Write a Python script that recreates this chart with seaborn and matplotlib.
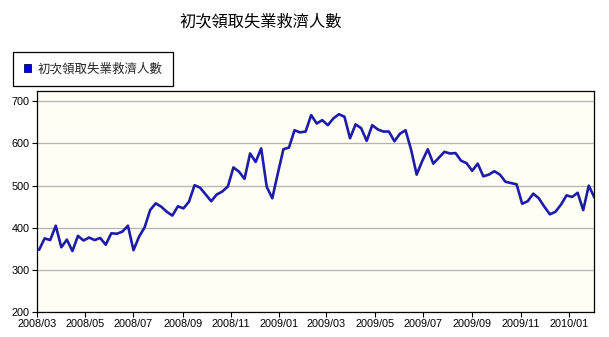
import matplotlib
matplotlib.use("Agg")
import matplotlib.pyplot as plt
import matplotlib.dates as mdates
from matplotlib.patches import Patch
import pandas as pd
import seaborn as sns

# Weekly initial jobless claims (thousands)
title = "初次領取失業救濟人數"
series_name = "初次領取失業救濟人數"
start_week = "2008-03-04"
claims = [
    348, 375, 371, 405, 354, 372, 345, 381, 370, 377,
    371, 376, 360, 387, 386, 391, 405, 347, 379, 401,
    442, 458, 450, 438, 429, 451, 446, 462, 501, 495,
    479, 463, 479, 486, 498, 543, 533, 516, 576, 556,
    588, 497, 470, 529, 586, 590, 631, 626, 628, 667,
    647, 655, 643, 659, 669, 663, 612, 645, 636, 606,
    643, 633, 628, 628, 605, 623, 631, 585, 526, 558,
    586, 552, 566, 580, 576, 577, 559, 553, 535, 552,
    522, 526, 534, 526, 509, 506, 503, 457, 463, 481,
    470, 450, 432, 438, 455, 477, 473, 483, 442, 500,
    472,
]
y_ticks = [200, 300, 400, 500, 600, 700]

weeks = pd.date_range(start_week, periods=len(claims), freq="7D")
df = pd.DataFrame({"week": weeks, "claims": claims})

sns.set_style("white")
plt.rcParams["font.family"] = ["Liberation Sans", "Noto Sans CJK TC", "DejaVu Sans"]

fig = plt.figure(figsize=(6.09, 3.37), dpi=100)
fig.patch.set_facecolor("white")
ax = fig.add_axes([0.0603, 0.0733, 0.9156, 0.6567])
ax.set_facecolor("#fffef4")

sns.lineplot(data=df, x="week", y="claims", ax=ax, color="#1c1ca8",
             linewidth=1.9, legend=False)
for line in ax.lines:
    line.set_solid_joinstyle("round")
    line.set_solid_capstyle("round")

ax.set_ylim(200, 724)
ax.set_yticks(y_ticks)
ax.set_xlim(pd.Timestamp("2008-03-01"), weeks[-1])
ax.xaxis.set_major_locator(mdates.MonthLocator(bymonth=[1, 3, 5, 7, 9, 11]))
ax.xaxis.set_major_formatter(mdates.DateFormatter("%Y/%m"))

ax.grid(axis="y", color="#b4b4b4", linewidth=0.9)
ax.grid(axis="x", visible=False)
ax.set_axisbelow(True)
for side in ["left", "right", "top", "bottom"]:
    ax.spines[side].set_visible(True)
    ax.spines[side].set_color("black")
    ax.spines[side].set_linewidth(0.9)

ax.tick_params(axis="both", which="major", direction="out", length=3.5,
               width=0.8, color="black", labelsize=7.8, pad=1.5,
               labelcolor="black")
ax.tick_params(axis="y", left=True)
ax.tick_params(axis="x", bottom=True)
ax.set_xlabel("")
ax.set_ylabel("")

fig.text(0.4286, 1 - 21.5 / 337, title, ha="center", va="center",
         fontsize=11.7, family=["Noto Sans CJK TC", "DejaVu Sans"],
         color="black")

handle = Patch(facecolor="#0000dd", edgecolor="#000066", linewidth=0.6)
leg = fig.legend(handles=[handle], labels=[series_name],
                 loc="upper left", bbox_to_anchor=(0.0219, 0.8466),
                 frameon=True, fancybox=False, framealpha=1,
                 edgecolor="black", facecolor="white",
                 prop={"family": ["Noto Sans CJK TC", "DejaVu Sans"], "size": 9.0},
                 handlelength=0.6, handleheight=0.6, handletextpad=0.45,
                 borderpad=0.85, borderaxespad=0)
leg.get_frame().set_linewidth(0.9)

fig.savefig("out.png", dpi=100, facecolor="white")
